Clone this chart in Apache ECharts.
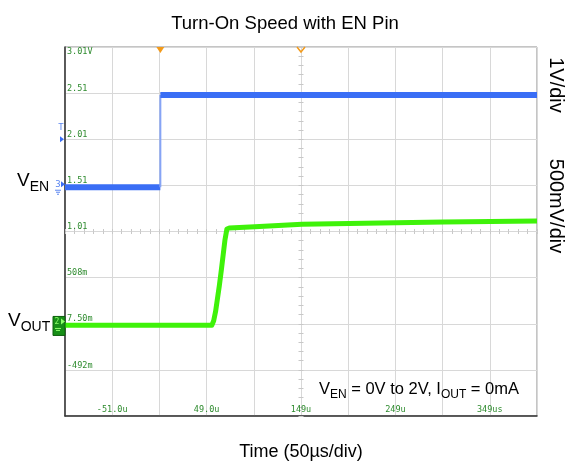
<!DOCTYPE html>
<html><head><meta charset="utf-8">
<script src="https://cdn.jsdelivr.net/npm/echarts@6/dist/echarts.min.js"></script>
<style>html,body{margin:0;padding:0;background:#fff}#c{width:570px;height:463px}</style>
</head><body><div id="c"></div><script>
// ---- tick labels ----
const timeTickLabels = ['', '-51.0u', '', '49.0u', '', '149u', '', '249u', '', '349us', ''];
const voltTickLabels = ['', '-492m', '7.50m', '508m', '1.01', '1.51', '2.01', '2.51', '3.01V'];

// ---- VEN trace (1V/div), time in µs, volts ----
const enLowTime = [-101, 0];
const enLowVolt = [0, 0];
const enHighTime = [0, 399];
const enHighVolt = [2, 2];

// ---- VOUT trace (500mV/div) ----
const outTime = [-101, 54.5, 56.5, 58.5, 60.5, 62.5, 64.5, 66.5, 68.5, 70.5, 73, 100, 150, 200, 250, 300, 350, 399];
const outVolt = [-0.01, -0.01, 0.04, 0.14, 0.28, 0.42, 0.58, 0.75, 0.92, 1.035, 1.045, 1.06, 1.085, 1.095, 1.103, 1.11, 1.115, 1.12];

// ---- scope settings ----
const T0 = -101, T_DIV = 50, N_XDIV = 10, N_YDIV = 8;
const EN_SCALE = 1.0, EN_GND_DIV = 4.96;
const OUT_SCALE = 0.5, OUT_GND_DIV = 1.985;
const trigTime = 0, cursorTime = 149;

const toX = t => t - T0;
const enPts = (ts, vs) => ts.map((t, i) => [toX(t), EN_GND_DIV + vs[i] / EN_SCALE]);
const outPts = outTime.map((t, i) => [toX(t), OUT_GND_DIV + outVolt[i] / OUT_SCALE]);

const FONT = 'Liberation Sans, Arial, sans-serif';
const MONO = 'DejaVu Sans Mono, monospace';
const LBL = '#2e8b2e';
const BLUE = '#3a6ef5';
const GREEN = '#3ff20a';

const chart = echarts.init(document.getElementById('c'), null, {renderer: 'canvas'});
const hidden = {show: false};
const centerX = (inside) => ({
  type: 'value', min: 0, max: N_XDIV * T_DIV, interval: T_DIV / 5, position: 'bottom', offset: -184.5,
  axisLine: {show: false, onZero: false}, axisLabel: hidden, splitLine: hidden,
  axisTick: {show: true, length: 2.5, inside: inside, lineStyle: {color: '#c8c8c8'}}
});
const centerY = (inside) => ({
  type: 'value', min: 0, max: N_YDIV, interval: 0.2, position: 'left', offset: -236,
  axisLine: {show: false, onZero: false}, axisLabel: hidden, splitLine: hidden,
  axisTick: {show: true, length: 2.5, inside: inside, lineStyle: {color: '#c8c8c8'}}
});

const option = {
  animation: false,
  backgroundColor: '#fff',
  title: {text: 'Turn-On Speed with EN Pin', left: 'center', top: 9,
    textStyle: {fontFamily: FONT, fontSize: 18.5, fontWeight: 'normal', color: '#000'}},
  grid: {left: 65, top: 47, width: 472, height: 369, show: true, borderColor: '#8a8a8a', borderWidth: 1, backgroundColor: '#fff'},
  xAxis: [
    {type: 'value', min: 0, max: N_XDIV * T_DIV, interval: T_DIV, position: 'bottom',
      axisLine: {show: true, onZero: false, lineStyle: {color: '#333', width: 1.5}},
      axisTick: hidden,
      splitLine: {show: true, lineStyle: {color: '#d8d8d8', width: 1}},
      axisLabel: {inside: true, margin: 2, verticalAlign: 'bottom', color: LBL, fontFamily: MONO, fontSize: 8.5,
        formatter: v => timeTickLabels[Math.round(v / T_DIV)] || ''}},
    centerX(false), centerX(true)
  ],
  yAxis: [
    {type: 'value', min: 0, max: N_YDIV, interval: 1, position: 'left',
      axisLine: {show: true, onZero: false, lineStyle: {color: '#333', width: 1.5}},
      axisTick: hidden,
      splitLine: {show: true, lineStyle: {color: '#d8d8d8', width: 1}},
      axisLabel: {inside: true, margin: 2, verticalAlign: 'bottom', color: LBL, fontFamily: MONO, fontSize: 8.5,
        formatter: v => (v < N_YDIV ? voltTickLabels[Math.round(v)] : '') || ''}},
    {type: 'value', min: 0, max: N_YDIV, interval: 1, position: 'left',
      axisLine: {show: false, onZero: false}, axisTick: hidden, splitLine: hidden,
      axisLabel: {inside: true, margin: 2, verticalAlign: 'top', color: LBL, fontFamily: MONO, fontSize: 8.5,
        formatter: v => (Math.round(v) === N_YDIV ? voltTickLabels[N_YDIV] : '')}},
    centerY(false), centerY(true)
  ],
  series: [
    {type: 'line', name: 'VEN low', data: enPts(enLowTime, enLowVolt), symbol: 'none',
      lineStyle: {color: BLUE, width: 6, cap: 'butt'}},
    {type: 'line', name: 'VEN edge', data: [enPts(enLowTime, enLowVolt)[1], enPts(enHighTime, enHighVolt)[0]], symbol: 'none',
      lineStyle: {color: '#86a4f5', width: 2}},
    {type: 'line', name: 'VEN high', data: enPts(enHighTime, enHighVolt), symbol: 'none',
      lineStyle: {color: BLUE, width: 6, cap: 'butt'}},
    {type: 'line', name: 'VOUT', data: outPts, symbol: 'none',
      lineStyle: {color: GREEN, width: 5, join: 'round'}}
  ]
};
chart.setOption(option);

// ---- decorations positioned through the axes ----
const px = t => chart.convertToPixel({xAxisIndex: 0}, toX(t));
const py = d => chart.convertToPixel({yAxisIndex: 0}, d);
const topY = py(N_YDIV), leftX = chart.convertToPixel({xAxisIndex: 0}, 0);
const enG = py(EN_GND_DIV), outG = py(OUT_GND_DIV), trigY = py(6);
const xt = px(trigTime), xc = px(cursorTime);

const sub = (main, s, size, subSize) => ({
  text: `{v|${main}}{s|${s}}`,
  rich: {v: {fontSize: size, fontFamily: FONT, fill: '#000', verticalAlign: 'bottom', padding: [0, 0, 4, 0]},
         s: {fontSize: subSize, fontFamily: FONT, fill: '#000', verticalAlign: 'bottom'}}
});

chart.setOption({graphic: [
  {type: 'polygon', shape: {points: [[xt - 4, topY], [xt + 4, topY], [xt, topY + 6]]}, style: {fill: '#f39a1a'}, z: 100},
  {type: 'polyline', shape: {points: [[xc - 4, topY], [xc, topY + 5], [xc + 4, topY]]}, style: {stroke: '#f39a1a', lineWidth: 1.5, fill: null}, z: 100},
  // trigger level marker
  {type: 'text', x: leftX - 4, y: trigY - 12, style: {text: 'T', fontSize: 9, fontFamily: MONO, fill: '#5b86f0', align: 'center', verticalAlign: 'middle'}, z: 100},
  {type: 'polygon', shape: {points: [[leftX - 5, trigY - 3], [leftX - 1, trigY], [leftX - 5, trigY + 3]]}, style: {fill: '#3a6ef5'}, z: 100},
  // VEN ground marker
  {type: 'text', x: leftX - 7, y: enG - 3, style: {text: '3', fontSize: 9, fontFamily: MONO, fill: '#5b86f0', align: 'center', verticalAlign: 'middle'}, z: 100},
  {type: 'polygon', shape: {points: [[leftX - 4, enG - 6], [leftX, enG - 3], [leftX - 4, enG]]}, style: {fill: '#3a6ef5'}, z: 100},
  {type: 'polyline', shape: {points: [[leftX - 10, enG + 3], [leftX - 4, enG + 3]]}, style: {stroke: '#5b86f0', lineWidth: 1}, z: 100},
  {type: 'polyline', shape: {points: [[leftX - 9, enG + 5], [leftX - 5, enG + 5]]}, style: {stroke: '#5b86f0', lineWidth: 1}, z: 100},
  {type: 'polyline', shape: {points: [[leftX - 8, enG + 7], [leftX - 6, enG + 7]]}, style: {stroke: '#5b86f0', lineWidth: 1}, z: 100},
  // VOUT ground marker
  {type: 'rect', shape: {x: leftX - 12, y: outG - 8, width: 12, height: 19}, style: {fill: '#178f17', stroke: '#0c5e0c', lineWidth: 1}, z: 100},
  {type: 'text', x: leftX - 8, y: outG - 3, style: {text: '2', fontSize: 8, fontFamily: MONO, fill: '#8dff6a', align: 'center', verticalAlign: 'middle'}, z: 101},
  {type: 'polygon', shape: {points: [[leftX - 4, outG - 6], [leftX, outG - 3], [leftX - 4, outG]]}, style: {fill: '#8dff6a'}, z: 101},
  {type: 'polyline', shape: {points: [[leftX - 10, outG + 4], [leftX - 4, outG + 4]]}, style: {stroke: '#8dff6a', lineWidth: 1}, z: 101},
  {type: 'polyline', shape: {points: [[leftX - 9, outG + 6], [leftX - 5, outG + 6]]}, style: {stroke: '#8dff6a', lineWidth: 1}, z: 101},
  // channel names
  {type: 'text', x: 17, y: enG + 7, style: Object.assign(sub('V', 'EN', 19, 14), {verticalAlign: 'bottom'}), z: 100},
  {type: 'text', x: 8, y: outG + 10, style: Object.assign(sub('V', 'OUT', 19, 14), {verticalAlign: 'bottom'}), z: 100},
  // conditions
  {type: 'text', x: 519, y: 401, style: {
    text: '{v|V}{s|EN}{v| = 0V to 2V, I}{s|OUT}{v| = 0mA}',
    align: 'right', verticalAlign: 'bottom',
    rich: {v: {fontSize: 16.5, fontFamily: FONT, fill: '#000', verticalAlign: 'bottom', padding: [0, 0, 3, 0]},
           s: {fontSize: 12, fontFamily: FONT, fill: '#000', verticalAlign: 'bottom'}}}, z: 100},
  // scale texts
  {type: 'text', x: 556, y: 85, rotation: -Math.PI / 2, style: {text: '1V/div', fontSize: 20, fontFamily: FONT, fill: '#000', align: 'center', verticalAlign: 'middle'}},
  {type: 'text', x: 556, y: 206, rotation: -Math.PI / 2, style: {text: '500mV/div', fontSize: 20, fontFamily: FONT, fill: '#000', align: 'center', verticalAlign: 'middle'}},
  // x title
  {type: 'text', x: 301, y: 452, style: {text: 'Time (50µs/div)', fontSize: 18, fontFamily: FONT, fill: '#000', align: 'center', verticalAlign: 'middle'}}
]});
</script></body></html>
